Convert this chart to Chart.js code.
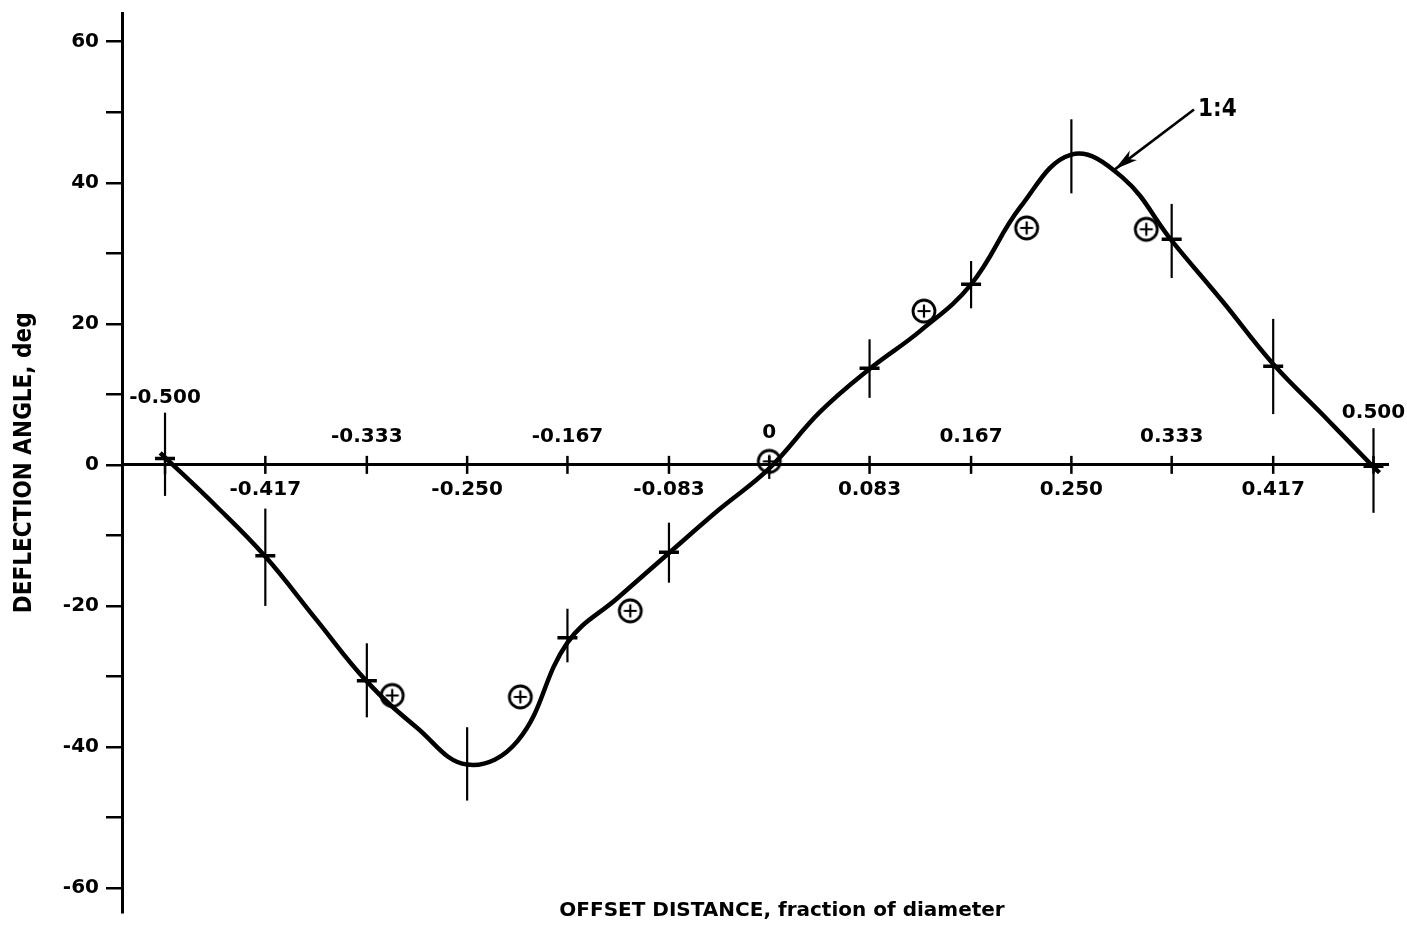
<!DOCTYPE html>
<html>
<head>
<meta charset="utf-8">
<title>Deflection angle vs offset distance</title>
<script src="https://cdn.jsdelivr.net/npm/chart.js@4.4.1/dist/chart.umd.min.js"></script>
<style>
  html, body { margin: 0; padding: 0; background: #fff; }
  #chart { display: block; }
</style>
</head>
<body>
<canvas id="chart" width="1407" height="928"></canvas>
<script>
// measured points (fraction of diameter) with their scatter band
const crossX = [-0.5, -0.417, -0.333, -0.25, -0.167, -0.083, 0, 0.083, 0.167, 0.25, 0.333, 0.417, 0.5];
const crossY = [0.9, -12.9, -30.6, -42.4, -24.5, -12.4, 0, 13.7, 25.6, 44.0, 32.0, 14.0, -0.2];
const barHigh = [7.4, -6.2, -25.3, -37.2, -20.4, -8.2, 0, 17.8, 28.9, 49.0, 37.0, 20.7, 5.2];
const barLow = [-4.4, -20.0, -35.8, -47.6, -28.0, -16.7, -2.0, 9.5, 22.2, 38.5, 26.5, 7.2, -6.8];

// circled-plus points
const circleX = [-0.312, -0.206, -0.115, 0, 0.128, 0.213, 0.312];
const circleY = [-32.7, -32.9, -20.7, 0.5, 21.8, 33.6, 33.4];

// faired curve "1:4"
const curveX = [-0.504, -0.458, -0.417, -0.375, -0.333, -0.292, -0.25, -0.208, -0.167, -0.125, -0.083, -0.042,
  0, 0.042, 0.083, 0.125, 0.167, 0.208, 0.25, 0.292, 0.333, 0.375, 0.417, 0.458, 0.5, 0.505];
const curveY = [1.7, -5.8, -13.0, -21.9, -30.7, -37.2, -42.5, -39.1, -25.2, -18.8, -12.5, -6.4,
  -0.5, 7.5, 13.6, 19.0, 25.6, 36.6, 44.0, 40.8, 31.8, 23.2, 14.3, 7.1, -0.3, -1.1];

const xTickValues = [-0.5, -0.417, -0.333, -0.25, -0.167, -0.083, 0, 0.083, 0.167, 0.25, 0.333, 0.417, 0.5];
const xTickLabels = ['-0.500', '-0.417', '-0.333', '-0.250', '-0.167', '-0.083', '0', '0.083', '0.167', '0.250', '0.333', '0.417', '0.500'];
const yTickValues = [-60, -50, -40, -30, -20, -10, 0, 10, 20, 30, 40, 50, 60];
const yTickLabels = ['-60', '', '-40', '', '-20', '', '0', '', '20', '', '40', '', '60'];

const curveName = '1:4';

// circle with a plus inside, used as point style
function makeCirclePlus() {
    const c = document.createElement('canvas');
    c.width = 30; c.height = 30;
    const g = c.getContext('2d');
    g.strokeStyle = '#000';
    g.lineWidth = 2.8;
    g.beginPath();
    g.arc(15, 15, 11, 0, Math.PI * 2);
    g.stroke();
    g.lineWidth = 2.2;
    g.beginPath();
    g.moveTo(15, 8.5); g.lineTo(15, 21.5);
    g.moveTo(8.5, 15); g.lineTo(21.5, 15);
    g.stroke();
    return c;
}

const errorBars = {
    id: 'errorBars',
    beforeDatasetsDraw(chart) {
        const xs = chart.scales.x, ys = chart.scales.y;
        const ctx = chart.ctx;
        ctx.save();
        ctx.strokeStyle = '#000';
        ctx.lineWidth = 2.2;
        crossX.forEach((v, i) => {
            const px = xs.getPixelForValue(v);
            ctx.beginPath();
            ctx.moveTo(px, ys.getPixelForValue(barHigh[i]));
            ctx.lineTo(px, ys.getPixelForValue(barLow[i]));
            ctx.stroke();
        });
        ctx.restore();
    }
};

const axisText = {
    id: 'axisText',
    afterDraw(chart) {
        const xs = chart.scales.x, ys = chart.scales.y;
        const ctx = chart.ctx;
        const y0 = ys.getPixelForValue(0);
        ctx.save();
        ctx.strokeStyle = '#000';
        ctx.fillStyle = '#000';
        ctx.lineWidth = 2.5;
        ctx.font = 'bold 20px "DejaVu Sans", sans-serif';
        ctx.textAlign = 'center';
        ctx.textBaseline = 'middle';
        xs.ticks.forEach((t, i) => {
            const px = xs.getPixelForValue(t.value);
            ctx.beginPath();
            ctx.moveTo(px, y0 - 9);
            ctx.lineTo(px, y0 + 9);
            ctx.stroke();
            // labels alternate above / below the axis
            let dy = i % 2 === 0 ? -28 : 25;
            if (t.value === 0) dy = -32;
            if (i === 0) dy = -67;
            if (i === xs.ticks.length - 1) dy = -52;
            ctx.fillText(xTickLabels[i], px, y0 + dy);
        });

        ctx.font = 'bold 20px "DejaVu Sans", sans-serif';
        ctx.fillText('OFFSET DISTANCE, fraction of diameter', 782, 911);

        // arrow pointing at the curve, labelled 1:4
        const tipX = xs.getPixelForValue(0.286), tipY = ys.getPixelForValue(41.9);
        const tailX = xs.getPixelForValue(0.3515), tailY = ys.getPixelForValue(50.4);
        const ang = Math.atan2(tipY - tailY, tipX - tailX);
        ctx.lineWidth = 2.6;
        ctx.beginPath();
        ctx.moveTo(tailX, tailY);
        ctx.lineTo(tipX, tipY);
        ctx.stroke();
        ctx.beginPath();
        ctx.moveTo(tipX, tipY);
        ctx.lineTo(tipX - 24 * Math.cos(ang - 0.25), tipY - 24 * Math.sin(ang - 0.25));
        ctx.lineTo(tipX - 17 * Math.cos(ang), tipY - 17 * Math.sin(ang));
        ctx.lineTo(tipX - 24 * Math.cos(ang + 0.25), tipY - 24 * Math.sin(ang + 0.25));
        ctx.closePath();
        ctx.fill();
        ctx.font = 'bold 24px "DejaVu Sans Condensed", "Liberation Sans Narrow", "DejaVu Sans", sans-serif';
        ctx.textAlign = 'left';
        ctx.fillText(curveName, xs.getPixelForValue(0.3548), ys.getPixelForValue(50.4));
        ctx.restore();
    }
};

const ctx = document.getElementById('chart').getContext('2d');
new Chart(ctx, {
    type: 'scatter',
    data: {
        datasets: [
            {
                label: curveName,
                data: curveX.map((x, i) => ({ x: x, y: curveY[i] })),
                showLine: true,
                borderColor: '#000',
                borderWidth: 4.5,
                pointRadius: 0,
                tension: 0.4,
                order: 3
            },
            {
                label: 'measured',
                data: crossX.map((x, i) => ({ x: x, y: crossY[i] })),
                showLine: false,
                pointStyle: 'line',
                pointRadius: crossX.map(x => (x === -0.25 || x === 0 || x === 0.25) ? 0 : 10),
                borderColor: '#000',
                borderWidth: 3.5,
                order: 2
            },
            {
                label: 'circled',
                data: circleX.map((x, i) => ({ x: x, y: circleY[i] })),
                showLine: false,
                pointStyle: makeCirclePlus(),
                backgroundColor: '#fff',
                order: 1
            }
        ]
    },
    options: {
        responsive: false,
        animation: false,
        layout: { padding: { top: 12, right: 19, bottom: 16, left: 0 } },
        plugins: {
            legend: { display: false },
            tooltip: { enabled: false }
        },
        scales: {
            x: {
                type: 'linear',
                min: -0.5356,
                max: 0.512,
                position: { y: 0 },
                afterBuildTicks: scale => { scale.ticks = xTickValues.map(v => ({ value: v })); },
                border: { display: true, color: '#000', width: 3 },
                grid: { drawOnChartArea: false, drawTicks: false },
                ticks: { display: false }
            },
            y: {
                type: 'linear',
                position: 'left',
                min: -63.4,
                max: 64,
                afterFit: scale => {
                    scale.width = 122;
                    scale.paddingTop = 0;
                    scale.paddingBottom = 0;
                },
                afterBuildTicks: scale => { scale.ticks = yTickValues.map(v => ({ value: v })); },
                border: { display: true, color: '#000', width: 3 },
                grid: { drawOnChartArea: false, drawTicks: true, tickLength: 16, color: '#000', lineWidth: 2.5 },
                ticks: {
                    color: '#000',
                    padding: 7,
                    font: { family: 'DejaVu Sans', size: 20, weight: 'bold' },
                    callback: (value, index) => yTickLabels[index]
                },
                title: {
                    display: true,
                    text: 'DEFLECTION ANGLE, deg',
                    color: '#000',
                    font: { family: '"DejaVu Sans Condensed", "Liberation Sans Narrow", "DejaVu Sans"', size: 24, weight: 'bold' },
                    padding: { top: 10, bottom: 0 }
                }
            }
        }
    },
    plugins: [errorBars, axisText]
});
</script>
</body>
</html>
